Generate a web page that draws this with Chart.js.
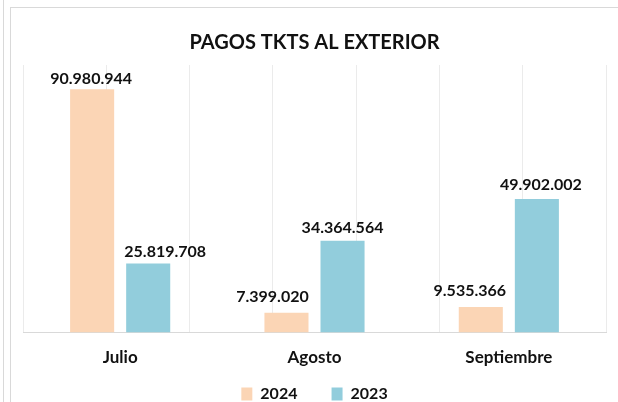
<!DOCTYPE html>
<html>
<head>
<meta charset="utf-8">
<script src="https://cdn.jsdelivr.net/npm/chart.js@4/dist/chart.umd.min.js"></script>
<style>
  html, body { margin: 0; padding: 0; background: #fff; }
  body { width: 618px; height: 402px; position: relative; overflow: hidden; }
  #outer { position: absolute; left: 3px; top: 0; width: 1px; height: 402px; background: #d9d9d9; }
  #frame { position: absolute; left: 10px; top: 7px; width: 620px; height: 400px;
           border-left: 1px solid #d9d9d9; border-top: 1px solid #d9d9d9; }
  #wrap { position: absolute; left: 0; top: 0; width: 618px; height: 402px; }
</style>
</head>
<body>
<div id="outer"></div>
<div id="frame"></div>
<div id="wrap"><canvas id="pagosChart" width="618" height="402"></canvas></div>
<script>
  // datos del grafico
  const meses = ['Julio', 'Agosto', 'Septiembre'];
  const pagos2024 = [90980944, 7399020, 9535366];
  const pagos2023 = [25819708, 34364564, 49902002];
  const etiquetasSerie = ['2024', '2023'];

  function formatoMiles(n) {
    return String(n).replace(/\B(?=(\d{3})+(?!\d))/g, '.');
  }

  // etiquetas de valor encima de cada barra (con pequeños ajustes como en el original)
  const valoresPlugin = {
    id: 'valores',
    afterDatasetsDraw(chart, args, opts) {
      const ctx = chart.ctx;
      const ajustes = opts.ajustes || [];
      ctx.save();
      ctx.font = 'bold 16px Lato';
      ctx.fillStyle = '#111';
      ctx.textAlign = 'center';
      ctx.textBaseline = 'alphabetic';
      chart.data.datasets.forEach((ds, i) => {
        chart.getDatasetMeta(i).data.forEach((bar, j) => {
          const a = (ajustes[i] && ajustes[i][j]) || [0, 6];
          ctx.fillText(formatoMiles(ds.data[j]), bar.x + a[0], bar.y - a[1]);
        });
      });
      ctx.restore();
    }
  };

  const ctx = document.getElementById('pagosChart').getContext('2d');

  const pagosChart = new Chart(ctx, {
    type: 'bar',
    data: {
      labels: meses,
      datasets: [
        {
          label: etiquetasSerie[0],
          data: pagos2024,
          backgroundColor: '#fbd5b5',
          borderWidth: 0
        },
        {
          label: etiquetasSerie[1],
          data: pagos2023,
          backgroundColor: '#92cddc',
          borderWidth: 0
        }
      ]
    },
    options: {
      responsive: false,
      animation: false,
      layout: { padding: { left: 23, right: 12, top: 0, bottom: -10 } },
      categoryPercentage: 0.577,
      barPercentage: 0.786,
      plugins: {
        title: {
          display: true,
          text: 'PAGOS TKTS AL EXTERIOR',
          color: '#111',
          font: { family: 'Lato', size: 20, weight: 'bold' },
          padding: { top: 31, bottom: 10 }
        },
        legend: {
          position: 'bottom',
          labels: {
            boxWidth: 11,
            boxHeight: 13,
            color: '#111',
            padding: 3,
            font: { family: 'Lato', size: 16, weight: 'bold' },
            generateLabels(chart) {
              const items = Chart.defaults.plugins.legend.labels.generateLabels(chart);
              // separacion entre las dos series
              items[0].text = items[0].text + '        ';
              return items;
            }
          }
        },
        valores: {
          ajustes: [
            [[-1, 5], [-14, 11], [-11, 11]],
            [[17, 7], [0, 8], [4, 9]]
          ]
        },
        tooltip: { enabled: false }
      },
      scales: {
        x: {
          grid: { display: false },
          border: { display: true, color: '#d9d9d9', width: 1 },
          ticks: {
            color: '#111',
            padding: 7,
            font: { family: 'Lato', size: 17, weight: 'bold' }
          },
          afterFit(scale) {
            scale.height += 8;
          }
        },
        x2: {
          type: 'linear',
          position: 'top',
          min: 0,
          max: 6,
          ticks: { display: false, stepSize: 1 },
          grid: { color: '#ebebeb', drawTicks: false },
          border: { display: false }
        },
        y: {
          display: false,
          min: 0,
          max: 100000000
        }
      }
    },
    plugins: [valoresPlugin]
  });
</script>
</body>
</html>
